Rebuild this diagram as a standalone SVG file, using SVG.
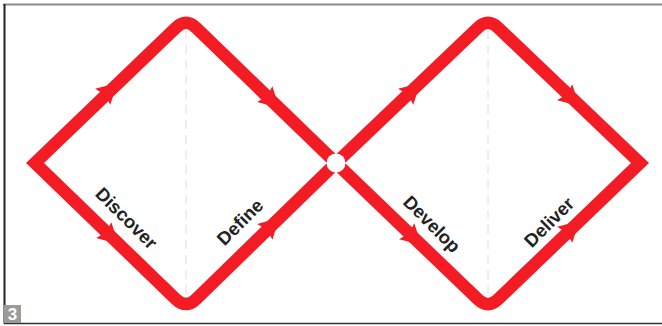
<svg xmlns="http://www.w3.org/2000/svg" width="662" height="326" viewBox="0 0 662 326">
  <style>
    .loop { fill: none; stroke: #f41c24; stroke-width: 12.5; stroke-linejoin: miter; stroke-miterlimit: 6; }
    .guide { stroke: #dedede; stroke-width: 1; stroke-dasharray: 9 6; fill: none; }
    .lbl { font-family: "Liberation Sans", Arial, sans-serif; font-weight: bold; font-size: 18.5px; fill: #222; text-anchor: middle; dominant-baseline: central; }
    .ah { fill: #f41c24; }
  </style>
  <defs>
    <path id="ah" d="M3,0 L-17,-11 L-14,0 L-17,11 Z"/>
  </defs>
  <rect x="0" y="0" width="662" height="326" fill="#ffffff"/>
  <g id="frame">
    <line x1="3" y1="4.5" x2="662" y2="4.5" stroke="#8a8a8a" stroke-width="2"/>
    <line x1="4.5" y1="4" x2="4.5" y2="324" stroke="#222" stroke-width="2"/>
    <line x1="4" y1="323.5" x2="662" y2="323.5" stroke="#333" stroke-width="1.5"/>
  </g>
  <g id="guides">
    <line class="guide" x1="186" y1="30" x2="186" y2="300"/>
    <line class="guide" x1="488" y1="30" x2="488" y2="300"/>
  </g>
  <g id="connectors">
    <path class="loop" d="M35,163 L175.9,27.7 Q186,18 196.1,27.7 L336,163 L477.9,299.3 Q488,309 498.1,299.3 L640,163 L498.1,27.7 Q488,18 477.9,27.7 L336,163 L196,299.2 Q186,309 175.9,299.2 Z"/>
    <use href="#ah" class="ah" transform="translate(115,85) rotate(-43.8)"/>
    <use href="#ah" class="ah" transform="translate(277,106) rotate(44)"/>
    <use href="#ah" class="ah" transform="translate(116,242) rotate(44)"/>
    <use href="#ah" class="ah" transform="translate(277,220) rotate(-44.2)"/>
    <use href="#ah" class="ah" transform="translate(418,85) rotate(-43.7)"/>
    <use href="#ah" class="ah" transform="translate(577,104) rotate(43.7)"/>
    <use href="#ah" class="ah" transform="translate(419,243) rotate(43.8)"/>
    <use href="#ah" class="ah" transform="translate(577,223) rotate(-43.8)"/>
    <circle cx="336" cy="163" r="9.5" fill="#ffffff"/>
  </g>
  <g id="discover"><text class="lbl" transform="translate(126.5,218) rotate(45)">Discover</text></g>
  <g id="define"><text class="lbl" transform="translate(240,222) rotate(-45)">Define</text></g>
  <g id="develop"><text class="lbl" transform="translate(432,224) rotate(45)">Develop</text></g>
  <g id="deliver"><text class="lbl" transform="translate(549,222) rotate(-45)">Deliver</text></g>
  <g id="badge">
    <rect x="4" y="305" width="17" height="18" fill="#9a9a9a"/>
    <text x="12.5" y="314.5" font-family="'Liberation Sans', Arial, sans-serif" font-weight="bold" font-size="17" fill="#ffffff" text-anchor="middle" dominant-baseline="central">3</text>
  </g>
</svg>
